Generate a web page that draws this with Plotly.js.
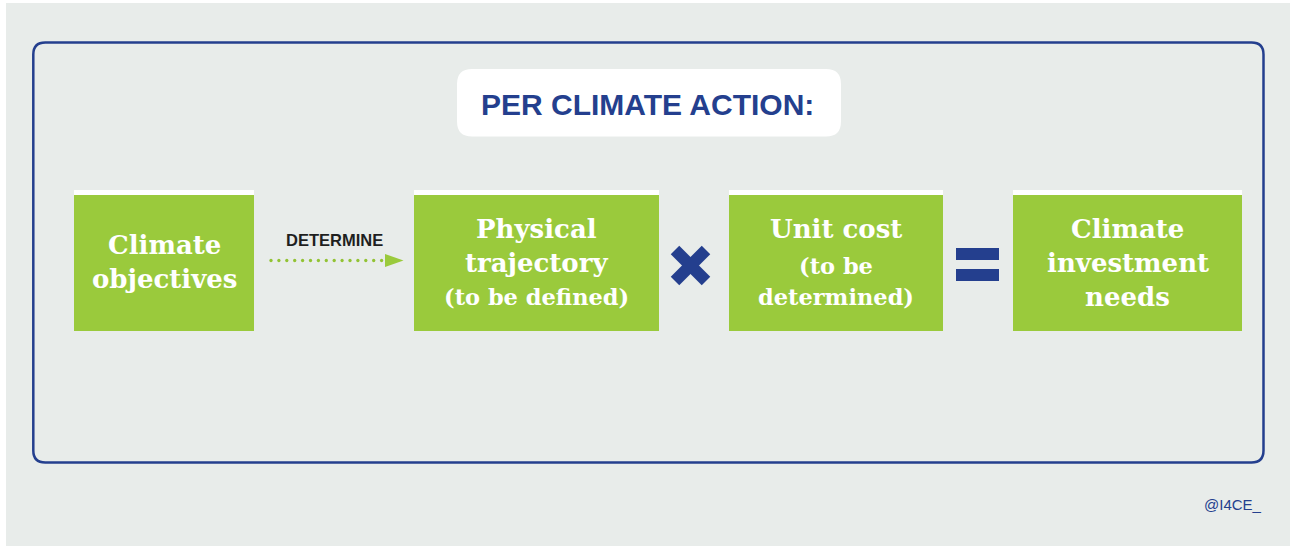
<!DOCTYPE html>
<html><head><meta charset="utf-8">
<script src="https://cdn.plot.ly/plotly-3.0.1.min.js"></script>
<style>html,body{margin:0;padding:0;background:#fff;}#chart{width:1290px;height:548px;}</style>
</head><body><div id="chart"></div>
<script>
// Content
const titleText = "PER CLIMATE ACTION:";
const boxLines = [
  ["Climate", "objectives"],
  ["Physical", "trajectory", "(to be defined)"],
  ["Unit cost", "(to be", "determined)"],
  ["Climate", "investment", "needs"]
];
const boxLineSmall = [
  [false, false],
  [false, false, true],
  [false, true, true],
  [false, false, false]
];
const connectorLabel = "DETERMINE";
const creditText = "@I4CE_";

// Layout geometry (pixels, y down)
const boxX = [[74, 254], [414, 659], [729, 943], [1013, 1242]];
const boxY = [190, 331];
const lineY3 = [229, 263, 297];
const lineY2 = [245, 279];

const BLUE = "#243f8e", GREEN = "#9aca3c", GRAY = "#e8ecea";

function rr(x0, y0, x1, y1, r) {
  return `M${x0+r},${y0} H${x1-r} Q${x1},${y0} ${x1},${y0+r} V${y1-r} Q${x1},${y1} ${x1-r},${y1} H${x0+r} Q${x0},${y1} ${x0},${y1-r} V${y0+r} Q${x0},${y0} ${x0+r},${y0} Z`;
}

const shapes = [];
const annotations = [];
// background
shapes.push({type:"rect", xref:"x", yref:"y", x0:6, x1:1290, y0:3, y1:546, fillcolor:GRAY, line:{width:0}, layer:"below"});
// frame
shapes.push({type:"path", xref:"x", yref:"y", path:rr(33.3, 42.5, 1263.5, 462.5, 12), fillcolor:"rgba(0,0,0,0)", line:{color:BLUE, width:2.5}});
// title box
shapes.push({type:"path", xref:"x", yref:"y", path:rr(457, 69, 841, 136.5, 15), fillcolor:"#ffffff", line:{width:0}});
annotations.push({x:647, y:104, xref:"x", yref:"y", text:"<b>"+titleText+"</b>", showarrow:false,
  font:{family:"Liberation Sans, Arial, sans-serif", size:30, color:BLUE}, xanchor:"center", yanchor:"middle"});

// green boxes
boxX.forEach((bx, i) => {
  shapes.push({type:"rect", xref:"x", yref:"y", x0:bx[0], x1:bx[1], y0:boxY[0], y1:boxY[1], fillcolor:"#ffffff", line:{width:0}});
  shapes.push({type:"rect", xref:"x", yref:"y", x0:bx[0], x1:bx[1], y0:boxY[0]+5, y1:boxY[1], fillcolor:GREEN, line:{width:0}});
  const lines = boxLines[i];
  const ys = lines.length === 3 ? lineY3 : lineY2;
  const cx = (bx[0] + bx[1]) / 2;
  lines.forEach((t, j) => {
    const small = boxLineSmall[i][j];
    annotations.push({x:cx, y:ys[j] + (i===2 && j===1 ? 3 : 0), xref:"x", yref:"y", text:"<b>"+t+"</b>", showarrow:false,
      font:{family:"DejaVu Serif, serif", size: small ? 22.5 : 26, color:"#ffffff"}, xanchor:"center", yanchor:"middle"});
  });
});

// connector label
annotations.push({x:334, y:240, xref:"x", yref:"y", text:"<b>"+connectorLabel+"</b>", showarrow:false,
  font:{family:"Liberation Sans, Arial, sans-serif", size:16.5, color:"#1f1f1f"}, xanchor:"center", yanchor:"middle"});
// arrow head
shapes.push({type:"path", xref:"x", yref:"y", path:"M385,254 L403.5,260.5 L385,267 Z", fillcolor:GREEN, line:{width:0}});

// multiply sign
shapes.push({type:"line", xref:"x", yref:"y", x0:675, y0:250, x1:706, y1:281, line:{color:BLUE, width:12}});
shapes.push({type:"line", xref:"x", yref:"y", x0:675, y0:281, x1:706, y1:250, line:{color:BLUE, width:12}});
// equals sign
shapes.push({type:"rect", xref:"x", yref:"y", x0:956, x1:999, y0:248, y1:260, fillcolor:BLUE, line:{width:0}});
shapes.push({type:"rect", xref:"x", yref:"y", x0:956, x1:999, y0:269, y1:281, fillcolor:BLUE, line:{width:0}});

// credit
annotations.push({x:1264, y:504, xref:"x", yref:"y", text:creditText, showarrow:false,
  font:{family:"Liberation Sans, Arial, sans-serif", size:15, color:BLUE}, xanchor:"right", yanchor:"middle"});

// dotted connector as trace
const dotX = [], dotY = [];
for (let k = 0; k < 15; k++) { dotX.push(271 + k * 7.9); dotY.push(260.5); }

const data = [{
  type:"scatter", mode:"markers", x:dotX, y:dotY, hoverinfo:"skip",
  marker:{color:"#92c334", size:3.3, line:{width:0}}
}];

const layout = {
  width:1290, height:548, margin:{l:0, r:0, t:0, b:0},
  paper_bgcolor:"#ffffff", plot_bgcolor:"rgba(0,0,0,0)", showlegend:false,
  xaxis:{range:[0,1290], visible:false, fixedrange:true},
  yaxis:{range:[548,0], visible:false, fixedrange:true},
  shapes, annotations
};
Plotly.newPlot("chart", data, layout, {displayModeBar:false, staticPlot:true});
</script></body></html>
